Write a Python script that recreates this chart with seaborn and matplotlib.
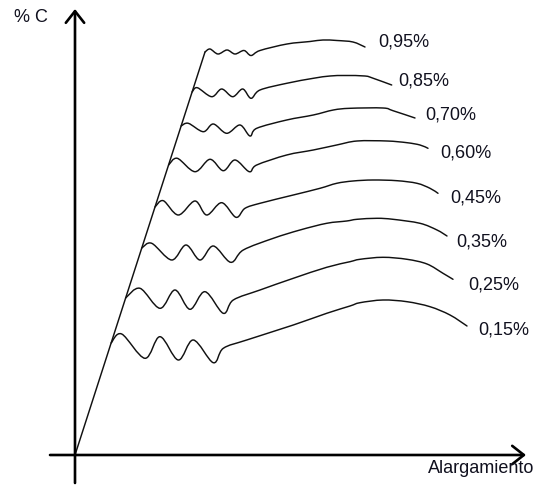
import matplotlib
matplotlib.use("Agg")
import numpy as np
import pandas as pd
import matplotlib.pyplot as plt
from matplotlib.path import Path
from matplotlib.patches import PathPatch
import seaborn as sns

# Carbon content of each steel curve
carbon_labels = ["0,15%", "0,25%", "0,35%", "0,45%", "0,60%", "0,70%", "0,85%", "0,95%"]

# Stress–elongation curves (arbitrary units): yield point on the elastic line,
# yield-point oscillations, strain hardening, maximum and necking.
c015_x = [36.1, 46.7, 70.0, 85.0, 103.3, 118.3, 138.3, 148.3, 171.7, 218.3, 251.7, 275.0, 285.0, 308.0, 332.0, 355.0, 375.0, 392.0]
c015_y = [112.0, 121.0, 96.7, 118.3, 95.0, 115.0, 92.3, 106.7, 115.0, 130.0, 141.7, 149.0, 152.3, 155.0, 153.3, 148.3, 140.0, 129.0]

c025_x = [50.6, 65.0, 85.0, 100.0, 115.0, 130.0, 148.3, 158.3, 185.0, 218.3, 251.7, 275.0, 285.0, 308.0, 332.0, 352.0, 368.0, 378.0]
c025_y = [157.0, 166.7, 146.7, 165.0, 145.7, 163.3, 141.7, 155.0, 165.0, 176.7, 187.7, 193.3, 195.7, 197.7, 195.7, 191.0, 181.7, 175.7]

c035_x = [66.8, 76.7, 96.7, 111.0, 125.0, 138.3, 155.7, 168.3, 198.3, 225.0, 251.7, 271.7, 282.0, 302.0, 318.0, 345.0, 362.0, 372.0]
c035_y = [207.0, 211.7, 195.0, 210.0, 195.0, 209.0, 192.7, 205.0, 216.7, 225.0, 231.7, 234.0, 235.7, 236.7, 235.7, 231.7, 225.0, 219.0]

c045_x = [80.0, 88.3, 103.3, 120.0, 131.7, 146.7, 161.0, 170.0, 185.0, 218.3, 245.0, 261.7, 278.0, 298.0, 322.0, 342.0, 355.0, 363.0]
c045_y = [248.0, 254.3, 240.0, 254.0, 240.0, 252.3, 237.7, 246.7, 251.7, 260.0, 266.7, 271.7, 274.0, 275.0, 274.3, 271.7, 266.7, 261.7]

c060_x = [93.6, 102.3, 120.0, 135.0, 148.3, 160.0, 174.3, 181.7, 211.7, 238.3, 261.7, 282.0, 312.0, 332.0, 345.0, 353.0]
c060_y = [290.0, 296.7, 283.3, 295.7, 284.3, 295.0, 283.3, 290.0, 300.0, 305.0, 310.0, 314.0, 314.0, 312.3, 310.0, 306.7]

c070_x = [106.1, 113.3, 128.3, 138.3, 151.7, 165.0, 175.0, 181.7, 211.7, 238.3, 258.3, 275.0, 308.0, 318.0, 340.0]
c070_y = [329.0, 331.7, 323.3, 331.0, 321.7, 330.0, 319.0, 326.7, 335.0, 340.0, 345.0, 346.7, 347.0, 344.3, 337.0]

c085_x = [117.1, 122.3, 136.7, 146.7, 157.7, 167.7, 176.0, 185.0, 211.7, 238.3, 255.0, 270.0, 290.0, 298.3, 316.7]
c085_y = [363.0, 367.3, 358.3, 366.0, 358.3, 366.0, 356.7, 365.0, 371.7, 376.7, 379.0, 379.5, 379.0, 376.7, 370.0]

c095_x = [130.0, 135.0, 143.0, 152.0, 160.0, 169.0, 176.0, 185.0, 212.0, 235.0, 248.0, 262.0, 278.0, 290.0]
c095_y = [403.0, 406.0, 401.0, 405.0, 401.0, 404.5, 399.5, 404.5, 411.0, 413.5, 415.0, 414.5, 413.0, 408.0]

# Elastic (proportional) region shared by all steels
elastic_x = [0.0, 130.0]
elastic_y = [0.0, 403.0]

curves_x = [c015_x, c025_x, c035_x, c045_x, c060_x, c070_x, c085_x, c095_x]
curves_y = [c015_y, c025_y, c035_y, c045_y, c060_y, c070_y, c085_y, c095_y]

# Label offsets (points) from the end of each curve
label_offsets = [(7.9, -2.9), (10.8, -4.3), (6.5, -4.3), (8.6, -3.6),
                 (8.6, -3.6), (7.2, 2.2), (5.0, 2.9), (9.4, 3.6)]


def smooth_path(xs, ys):
    """Catmull-Rom curve through the given points, as cubic Bezier segments."""
    pts = np.column_stack([xs, ys])
    ext = np.vstack([pts[0], pts, pts[-1]])
    verts = [pts[0]]
    codes = [Path.MOVETO]
    for i in range(len(pts) - 1):
        p0, p1, p2, p3 = ext[i], ext[i + 1], ext[i + 2], ext[i + 3]
        verts += [p1 + (p2 - p0) / 6.0, p2 - (p3 - p1) / 6.0, p2]
        codes += [Path.CURVE4] * 3
    return Path(verts, codes)


sns.set_theme(style="white")
plt.rcParams["font.family"] = ["Liberation Sans", "DejaVu Sans"]

fig = plt.figure(figsize=(5.44, 4.86), dpi=100)
ax = fig.add_axes([0, 0, 1, 1])
ax.set_xlim(-75, 469)
ax.set_ylim(-31, 455)
ax.axis("off")

ink = "#111111"
text_ink = "#10101e"

# Elastic line
elastic = pd.DataFrame({"x": elastic_x, "y": elastic_y})
sns.lineplot(data=elastic, x="x", y="y", ax=ax, color=ink, lw=1.05,
             estimator=None, sort=False)

# Curves for each carbon content
for xs, ys, lab, off in zip(curves_x, curves_y, carbon_labels, label_offsets):
    ax.add_patch(PathPatch(smooth_path(xs, ys), facecolor="none",
                           edgecolor=ink, lw=1.05, capstyle="round",
                           joinstyle="round"))
    ax.annotate(lab, xy=(xs[-1], ys[-1]), xytext=off, textcoords="offset points",
                ha="left", va="center", fontsize=13, color=text_ink)

# Axes with open arrowheads
arrow = dict(arrowstyle="->,head_length=0.7,head_width=0.55", lw=1.9,
             color="black", shrinkA=0, shrinkB=0)
ax.annotate("", xy=(0, 446), xytext=(0, -28), arrowprops=arrow)
ax.annotate("", xy=(451, 0), xytext=(-25, 0), arrowprops=arrow)

ax.text(-61, 437, "% C", ha="left", va="center", fontsize=13, color=text_ink)
ax.text(353, -18, "Alargamiento", ha="left", va="baseline", fontsize=13,
        color=text_ink)

fig.savefig("out.png", dpi=100)
